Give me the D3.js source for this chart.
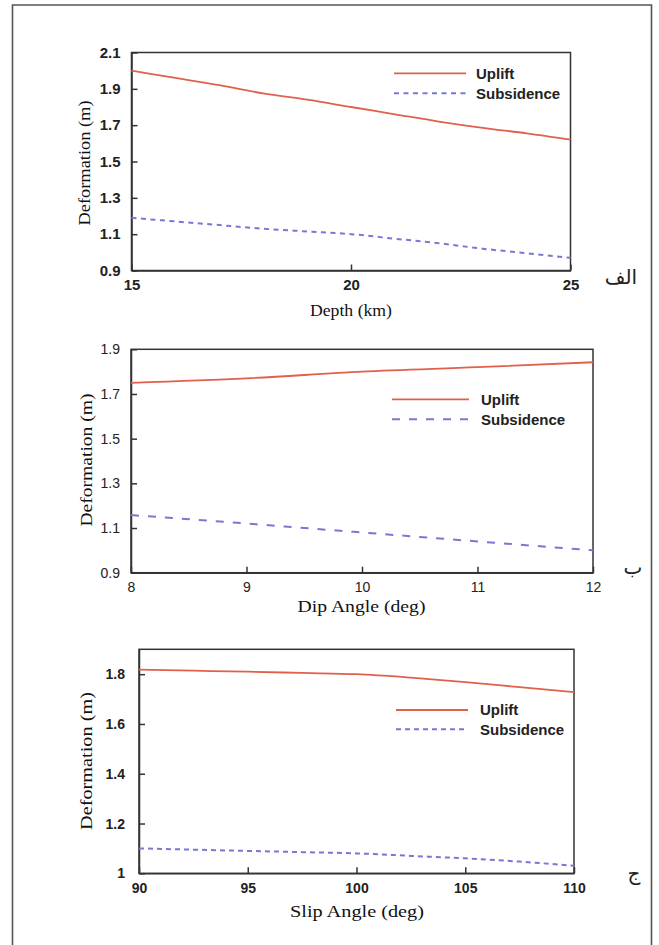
<!DOCTYPE html>
<html>
<head>
<meta charset="utf-8">
<script src="https://cdn.jsdelivr.net/npm/d3@7"></script>
<style>
  html, body { margin: 0; padding: 0; background: #fff; }
  svg { display: block; }
</style>
</head>
<body>
<svg id="chart" width="659" height="945"></svg>
<script>
// ---------- DATA ----------
// Panel الف : Depth
const depthKm          = [15, 16, 17, 18, 19, 20, 21, 22, 23, 24, 25];
const upliftDepth      = [2.00, 1.96, 1.92, 1.875, 1.84, 1.80, 1.76, 1.72, 1.685, 1.655, 1.62];
const subsidenceDepth  = [1.19, 1.17, 1.15, 1.13, 1.115, 1.10, 1.075, 1.05, 1.02, 0.995, 0.97];
const depthXTicks      = [15, 20, 25];
const depthYTicks      = [0.9, 1.1, 1.3, 1.5, 1.7, 1.9, 2.1];

// Panel ب : Dip angle
const dipDeg           = [8, 9, 10, 11, 12];
const upliftDip        = [1.75, 1.77, 1.80, 1.82, 1.842];
const subsidenceDip    = [1.158, 1.12, 1.08, 1.04, 1.0];
const dipXTicks        = [8, 9, 10, 11, 12];
const dipYTicks        = [0.9, 1.1, 1.3, 1.5, 1.7, 1.9];

// Panel ج : Slip angle
const slipDeg          = [90, 92.5, 95, 97.5, 100, 102.5, 105, 107.5, 110];
const upliftSlip       = [1.818, 1.814, 1.81, 1.805, 1.80, 1.786, 1.768, 1.748, 1.728];
const subsidenceSlip   = [1.10, 1.095, 1.09, 1.085, 1.08, 1.07, 1.06, 1.047, 1.03];
const slipXTicks       = [90, 95, 100, 105, 110];
const slipYTicks       = [1.0, 1.2, 1.4, 1.6, 1.8];

const seriesNames      = ["Uplift", "Subsidence"];
const yTitle           = "Deformation (m)";
const xTitles          = ["Depth (km)", "Dip Angle (deg)", "Slip Angle (deg)"];
const panelLetters     = ["الف", "ب", "ج"];

// ---------- STYLE / LAYOUT ----------
const upColor = "#e0604c";
const subColor = "#7878d2";
const axisColor = "#333";

const panels = [
  {
    x: depthKm, up: upliftDepth, sub: subsidenceDepth,
    xDomain: [15, 25], yDomain: [0.9, 2.1], xTicks: depthXTicks, yTicks: depthYTicks,
    yFmt: d3.format(".1f"),
    box: {l: 131.5, r: 570.5, t: 52.5, b: 270.5},
    tickFont: "bold 15px 'Liberation Sans', Arial, sans-serif",
    xPad: 9, yPad: 11,
    dash: "5,4.5",
    leg: {x1: 394, x2: 466, y1: 73.3, y2: 93.3, tx: 476, font: "bold 15px 'Liberation Sans', Arial, sans-serif"},
    xt: {x: 351, y: 310, size: 16, len: 82},
    yt: {x: 84, y: 163, size: 16, len: 125},
    letter: {x: 621, y: 277}
  },
  {
    x: dipDeg, up: upliftDip, sub: subsidenceDip,
    xDomain: [8, 12], yDomain: [0.9, 1.9], xTicks: dipXTicks, yTicks: dipYTicks,
    yFmt: d3.format(".1f"),
    box: {l: 131, r: 593, t: 349.3, b: 572.7},
    tickFont: "14px 'Liberation Sans', Arial, sans-serif",
    xPad: 9, yPad: 11,
    dash: "8,9",
    leg: {x1: 392, x2: 469, y1: 399.3, y2: 419.3, tx: 481, font: "bold 15px 'Liberation Sans', Arial, sans-serif"},
    xt: {x: 361.5, y: 606, size: 17, len: 128},
    yt: {x: 86.5, y: 460, size: 16, len: 133},
    letter: {x: 633, y: 567}
  },
  {
    x: slipDeg, up: upliftSlip, sub: subsidenceSlip,
    xDomain: [90, 110], yDomain: [1.0, 1.9], xTicks: slipXTicks, yTicks: slipYTicks,
    yFmt: d => d === 1 ? "1" : d3.format(".1f")(d),
    box: {l: 139, r: 574, t: 649.3, b: 873.3},
    tickFont: "bold 14px 'Liberation Sans', Arial, sans-serif",
    xPad: 10, yPad: 14,
    dash: "5,4",
    leg: {x1: 396, x2: 468, y1: 710, y2: 729.3, tx: 480, font: "bold 15px 'Liberation Sans', Arial, sans-serif"},
    xt: {x: 357, y: 911, size: 17, len: 134},
    yt: {x: 86.5, y: 761, size: 16, len: 138},
    letter: {x: 634, y: 873}
  }
];

const svg = d3.select("#chart");

// outer frame (no bottom edge visible)
svg.append("path")
  .attr("d", "M12.5,948 V5 H651.5 V948")
  .attr("fill", "none").attr("stroke", "#555").attr("stroke-width", 1.6);

panels.forEach((p, i) => {
  const g = svg.append("g");
  const x = d3.scaleLinear().domain(p.xDomain).range([p.box.l, p.box.r]);
  const y = d3.scaleLinear().domain(p.yDomain).range([p.box.b, p.box.t]);

  // plot frame
  g.append("rect")
    .attr("x", p.box.l).attr("y", p.box.t)
    .attr("width", p.box.r - p.box.l).attr("height", p.box.b - p.box.t)
    .attr("fill", "none").attr("stroke", axisColor).attr("stroke-width", 1.5);

  // axes
  const xAxis = g.append("g").attr("transform", `translate(0,${p.box.b})`)
    .call(d3.axisBottom(x).tickValues(p.xTicks).tickSizeInner(-6).tickSizeOuter(0)
      .tickPadding(p.xPad).tickFormat(d3.format("d")));
  const yAxis = g.append("g").attr("transform", `translate(${p.box.l},0)`)
    .call(d3.axisLeft(y).tickValues(p.yTicks).tickSizeInner(-6).tickSizeOuter(0)
      .tickPadding(p.yPad).tickFormat(p.yFmt));
  [xAxis, yAxis].forEach(a => {
    a.select(".domain").attr("stroke", axisColor).attr("stroke-width", 1.5);
    a.selectAll(".tick line").attr("stroke", axisColor).attr("stroke-width", 1.5);
    a.selectAll(".tick text").attr("fill", "#222").style("font", p.tickFont);
  });

  // lines
  const pts = (vals) => p.x.map((d, k) => [d, vals[k]]);
  const line = d3.line().x(d => x(d[0])).y(d => y(d[1])).curve(d3.curveMonotoneX);
  g.append("path").datum(pts(p.up)).attr("d", line)
    .attr("fill", "none").attr("stroke", upColor).attr("stroke-width", 1.8);
  g.append("path").datum(pts(p.sub)).attr("d", line)
    .attr("fill", "none").attr("stroke", subColor).attr("stroke-width", 2)
    .attr("stroke-dasharray", p.dash);

  // legend
  const L = p.leg;
  g.append("line").attr("x1", L.x1).attr("x2", L.x2).attr("y1", L.y1).attr("y2", L.y1)
    .attr("stroke", upColor).attr("stroke-width", 1.8);
  g.append("line").attr("x1", L.x1).attr("x2", L.x2).attr("y1", L.y2).attr("y2", L.y2)
    .attr("stroke", subColor).attr("stroke-width", 2).attr("stroke-dasharray", p.dash);
  [L.y1, L.y2].forEach((yy, k) => {
    g.append("text").attr("x", L.tx).attr("y", yy).attr("dy", "0.36em")
      .style("font", L.font).attr("fill", "#222").text(seriesNames[k]);
  });

  // axis titles
  g.append("text").attr("x", p.xt.x).attr("y", p.xt.y).attr("dy", "0.35em")
    .attr("text-anchor", "middle")
    .style("font-family", "'Liberation Serif', 'Times New Roman', serif")
    .style("font-size", p.xt.size + "px")
    .attr("fill", "#111")
    .attr("textLength", p.xt.len).attr("lengthAdjust", "spacingAndGlyphs")
    .text(xTitles[i]);
  g.append("text")
    .attr("transform", `translate(${p.yt.x},${p.yt.y}) rotate(-90)`)
    .attr("dy", "0.35em").attr("text-anchor", "middle")
    .style("font-family", "'Liberation Serif', 'Times New Roman', serif")
    .style("font-size", p.yt.size + "px")
    .attr("fill", "#111")
    .attr("textLength", p.yt.len).attr("lengthAdjust", "spacingAndGlyphs")
    .text(yTitle);

  // panel letter
  g.append("text").attr("x", p.letter.x).attr("y", p.letter.y).attr("dy", "0.35em")
    .attr("text-anchor", "middle").attr("direction", "rtl")
    .style("font-family", "'DejaVu Sans', 'Noto Sans', sans-serif").style("font-size", "20px")
    .attr("fill", "#222").text(panelLetters[i]);
});
</script>
</body>
</html>
